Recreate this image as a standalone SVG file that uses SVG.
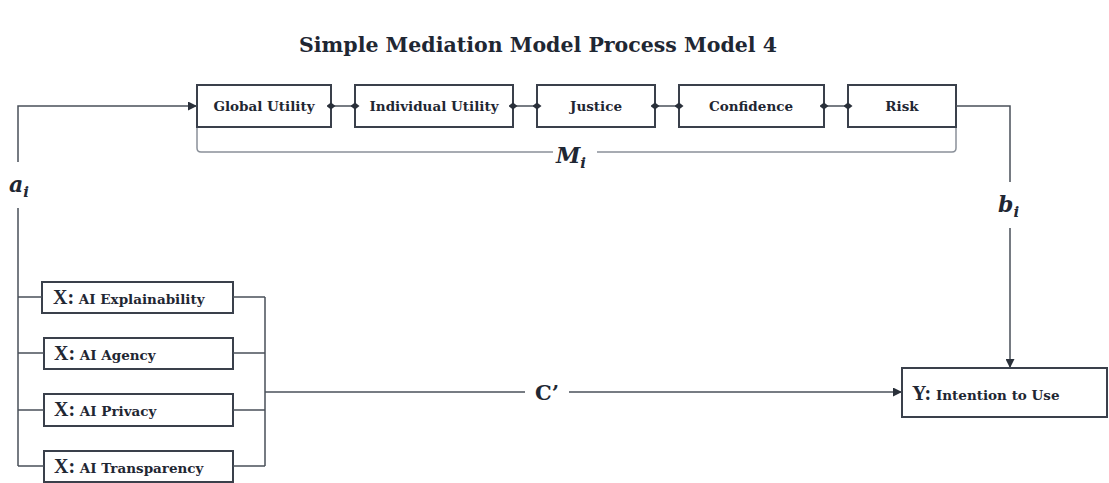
<svg xmlns="http://www.w3.org/2000/svg" width="1109" height="483" viewBox="0 0 1109 483">
<defs>
<style>
text{font-family:"DejaVu Serif","Liberation Serif",serif;font-weight:bold;fill:#1f2733}
.title{font-size:20.5px}
.lbl{font-size:13.5px}
.big{font-size:20px;font-family:"Liberation Serif",serif}
.sm{font-size:13.5px}
.var{font-size:22px;font-style:italic}
.sub{font-size:15px;font-style:italic}
.box{fill:#fff;stroke:#3a404b;stroke-width:2}
.ln{fill:none;stroke:#4a505a;stroke-width:1.5}
.br{fill:none;stroke:#8a9099;stroke-width:1.5}
.mask{fill:#fff}
</style>
<marker id="arr" viewBox="0 0 10 10" refX="10" refY="5" markerWidth="9" markerHeight="9" markerUnits="userSpaceOnUse" orient="auto"><path d="M0,0L10,5L0,10z" fill="#2a303a"/></marker>
<marker id="dia" viewBox="0 0 10 10" refX="5" refY="5" markerWidth="9" markerHeight="9" markerUnits="userSpaceOnUse" orient="auto"><path d="M0,5L5,1L10,5L5,9z" fill="#2a303a"/></marker>
</defs>
<rect width="1109" height="483" fill="#fff"/>
<text class="title" x="538" y="52" text-anchor="middle">Simple Mediation Model Process Model 4</text>
<g id="global"><rect class="box" x="197" y="85" width="134" height="42"/><text class="lbl" x="264" y="111" text-anchor="middle">Global Utility</text></g>
<g id="individual"><rect class="box" x="355" y="85" width="158" height="42"/><text class="lbl" x="434" y="111" text-anchor="middle">Individual Utility</text></g>
<g id="justice"><rect class="box" x="537" y="85" width="118" height="42"/><text class="lbl" x="596" y="111" text-anchor="middle">Justice</text></g>
<g id="confidence"><rect class="box" x="679" y="85" width="145" height="42"/><text class="lbl" x="751" y="111" text-anchor="middle">Confidence</text></g>
<g id="risk"><rect class="box" x="848" y="85" width="108" height="42"/><text class="lbl" x="902" y="111" text-anchor="middle">Risk</text></g>
<g id="x_explain"><rect class="box" x="42" y="282" width="191" height="31"/><text x="53" y="304"><tspan class="big">X:</tspan><tspan class="sm"> AI Explainability</tspan></text></g>
<g id="x_agency"><rect class="box" x="44" y="338" width="189" height="31"/><text x="54" y="360"><tspan class="big">X:</tspan><tspan class="sm"> AI Agency</tspan></text></g>
<g id="x_privacy"><rect class="box" x="44" y="394" width="189" height="32"/><text x="54" y="416"><tspan class="big">X:</tspan><tspan class="sm"> AI Privacy</tspan></text></g>
<g id="x_transparency"><rect class="box" x="44" y="451" width="189" height="31"/><text x="54" y="473"><tspan class="big">X:</tspan><tspan class="sm"> AI Transparency</tspan></text></g>
<g id="y_intention"><rect class="box" x="902" y="368" width="205" height="49"/><text x="912" y="400"><tspan class="big">Y:</tspan><tspan class="sm"> Intention to Use</tspan></text></g>
<g id="connectors">
<path class="ln" d="M18,466V106H197" marker-end="url(#arr)"/>
<path class="ln" d="M331,106H355" marker-start="url(#dia)" marker-end="url(#dia)"/>
<path class="ln" d="M513,106H537" marker-start="url(#dia)" marker-end="url(#dia)"/>
<path class="ln" d="M655,106H679" marker-start="url(#dia)" marker-end="url(#dia)"/>
<path class="ln" d="M824,106H848" marker-start="url(#dia)" marker-end="url(#dia)"/>
<path class="ln" d="M956,106H1010V368" marker-end="url(#arr)"/>
<path class="br" d="M197,128V148Q197,152 201,152H952Q956,152 956,148V128"/>
<path class="ln" d="M18,297H42M18,353H44M18,410H44M18,466H44"/>
<path class="ln" d="M233,297H265M233,353H265M233,410H265M233,466H265M265,297V466"/>
<path class="ln" d="M265,392H902" marker-end="url(#arr)"/>
<rect class="mask" x="4" y="162" width="30" height="46"/>
<rect class="mask" x="992" y="182" width="38" height="46"/>
<rect class="mask" x="553" y="140" width="44" height="30"/>
<rect class="mask" x="525" y="375" width="44" height="34"/>
</g>
<g id="a_label"><text class="var" x="9" y="192">a<tspan class="sub" dy="5">i</tspan></text></g>
<g id="b_label"><text class="var" x="998" y="212">b<tspan class="sub" dy="5">i</tspan></text></g>
<g id="m_label"><text class="var" x="556" y="163">M<tspan class="sub" dy="5">i</tspan></text></g>
<g id="c_label"><text class="var" x="547" y="400" text-anchor="middle" style="font-style:normal;font-size:21px">C’</text></g>
</svg>
